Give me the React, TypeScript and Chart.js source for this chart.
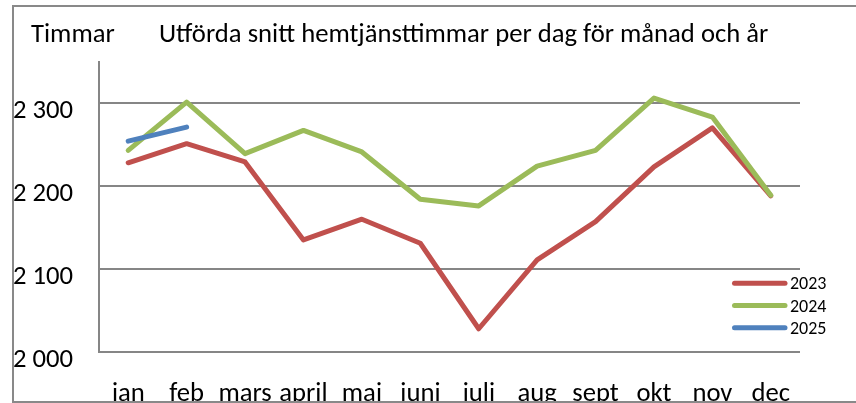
import React, { useEffect, useRef } from "react";
import { Chart, registerables } from "chart.js";

Chart.register(...registerables);

// ---- data ----
const months = ["jan", "feb", "mars", "april", "maj", "juni", "juli", "aug", "sept", "okt", "nov", "dec"];
const years = ["2023", "2024", "2025"];
const values2023 = [2228, 2251, 2229, 2135, 2160, 2131, 2028, 2111, 2157, 2223, 2270, 2188];
const values2024 = [2243, 2301, 2239, 2267, 2241, 2184, 2176, 2224, 2243, 2306, 2283, 2189];
const values2025 = [2254, 2271];
const yTickValues = [2000, 2100, 2200, 2300];
const yMin = 2000;
const yMax = 2350;
const yAxisTitle = "Timmar";
const chartTitle = "Utförda snitt hemtjänsttimmar per dag för månad och år";

const seriesColors = ["#C0504D", "#9BBB59", "#4F81BD"];
const gridColor = "#868686";
const FONT = "Carlito, Calibri, 'Liberation Sans', sans-serif";

const fmt = (v: number | string) => {
  const n = Number(v);
  const th = Math.floor(n / 1000);
  const rest = String(n % 1000).padStart(3, "0");
  return `${th} ${rest}`;
};

const decor = {
  id: "decor",
  beforeDraw(chart: any) {
    const ctx = chart.ctx;
    ctx.save();
    ctx.fillStyle = "#ffffff";
    ctx.fillRect(0, 0, chart.width, chart.height);
    ctx.restore();
  },
  afterDraw(chart: any) {
    const ctx = chart.ctx;
    ctx.save();
    // outer frame
    ctx.strokeStyle = "#898989";
    ctx.lineWidth = 2;
    ctx.beginPath();
    ctx.moveTo(chart.width + 5, 6);
    ctx.lineTo(13, 6);
    ctx.lineTo(13, 402);
    ctx.lineTo(chart.width + 5, 402);
    ctx.stroke();
    // titles
    ctx.fillStyle = "#000000";
    ctx.font = `26.67px ${FONT}`;
    ctx.textAlign = "left";
    ctx.textBaseline = "alphabetic";
    ctx.fillText(yAxisTitle, 31, 42);
    ctx.fillText(chartTitle, 159, 42);
    // legend
    ctx.font = `18px ${FONT}`;
    chart.data.datasets.forEach((ds: any, i: number) => {
      const y = 283.3 + i * 22.2;
      ctx.strokeStyle = ds.borderColor;
      ctx.lineWidth = 5;
      ctx.lineCap = "round";
      ctx.beginPath();
      ctx.moveTo(734.5, y);
      ctx.lineTo(785, y);
      ctx.stroke();
      ctx.fillText(ds.label, 790, y + 6);
    });
    ctx.restore();
  },
};

export default function App() {
  const ref = useRef<HTMLCanvasElement>(null);
  useEffect(() => {
    const canvas = ref.current!;
    const chart = new Chart(canvas, {
      type: "line",
      data: {
        labels: months,
        datasets: [
          { label: years[0], data: values2023, borderColor: seriesColors[0], backgroundColor: seriesColors[0], order: 3 },
          { label: years[1], data: values2024, borderColor: seriesColors[1], backgroundColor: seriesColors[1], order: 2 },
          { label: years[2], data: values2025, borderColor: seriesColors[2], backgroundColor: seriesColors[2], order: 1 },
        ],
      },
      options: {
        responsive: false,
        animation: false,
        devicePixelRatio: 1,
        events: [],
        layout: { padding: { left: 0, right: 56, top: 61.5, bottom: 1 } },
        elements: {
          point: { radius: 0, hoverRadius: 0 },
          line: { borderWidth: 5, tension: 0, borderCapStyle: "round", borderJoinStyle: "round" },
        },
        plugins: {
          legend: { display: false },
          title: { display: false },
          tooltip: { enabled: false },
        },
        scales: {
          x: {
            type: "category",
            offset: true,
            grid: { display: false, drawTicks: false },
            border: { display: false },
            ticks: {
              color: "#000000",
              font: { family: FONT, size: 26.67 },
              padding: 26,
              maxRotation: 0,
              autoSkip: false,
            },
          },
          y: {
            type: "linear",
            min: yMin,
            max: yMax,
            afterBuildTicks: (scale: any) => {
              scale.ticks = yTickValues.map((v) => ({ value: v }));
            },
            afterFit: (scale: any) => {
              scale.width = 99;
            },
            grid: { color: gridColor, lineWidth: 2, drawTicks: false },
            border: { display: true, color: gridColor, width: 2 },
            ticks: {
              color: "#000000",
              font: { family: FONT, size: 26.67 },
              padding: 26,
              labelOffset: 8,
              callback: (v: any) => fmt(v),
            },
          },
        },
      },
      plugins: [decor],
    });
    return () => chart.destroy();
  }, []);
  return (
    <div style={{ position: "fixed", left: 0, top: 0, width: 856, height: 403, overflow: "hidden", background: "#fff" }}>
      <canvas ref={ref} width={856} height={437} style={{ display: "block" }} />
    </div>
  );
}
